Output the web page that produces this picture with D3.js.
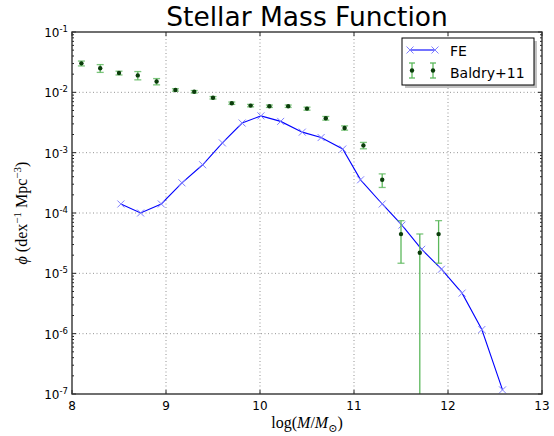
<!DOCTYPE html>
<html><head><meta charset="utf-8">
<script src="https://cdnjs.cloudflare.com/ajax/libs/d3/7.8.5/d3.min.js"></script>
<style>
html,body{margin:0;padding:0;background:#fff;}
svg{display:block;}
</style></head>
<body>
<svg id="chart" width="554" height="436"></svg>
<script>
// ---- data ----
const feMass = [8.52, 8.73, 8.95, 9.17, 9.39, 9.60, 9.81, 10.01, 10.22, 10.45, 10.65, 10.88, 11.07, 11.30, 11.51, 11.72, 11.93, 12.15, 12.36, 12.58];
const fePhi = [1.41e-4, 1.0e-4, 1.41e-4, 3.16e-4, 6.3e-4, 1.45e-3, 3.1e-3, 4.07e-3, 3.3e-3, 2.19e-3, 1.78e-3, 1.15e-3, 3.55e-4, 1.41e-4, 6.3e-5, 2.5e-5, 1.17e-5, 4.7e-6, 1.17e-6, 1.17e-7];
const baldryMass = [8.10, 8.30, 8.50, 8.70, 8.90, 9.10, 9.30, 9.50, 9.70, 9.90, 10.10, 10.30, 10.50, 10.70, 10.90, 11.10, 11.30, 11.50, 11.70, 11.90];
const baldryPhi = [0.0302, 0.0251, 0.0209, 0.0191, 0.0151, 0.01096, 0.01023, 0.00813, 0.00661, 0.00603, 0.00589, 0.00589, 0.00537, 0.00372, 0.00257, 0.00132, 0.000355, 4.47e-5, 2.19e-5, 4.47e-5];
const baldryErr = [0.0028, 0.0037, 0.0015, 0.0030, 0.0018, 0.0005, 0.00048, 0.00038, 0.0003, 0.00028, 0.00027, 0.00027, 0.00031, 0.00026, 0.00021, 0.00016, 0.00009, 3.0e-5, 2.3e-5, 3.0e-5];
const xTicks = [8, 9, 10, 11, 12, 13];
const yExponents = [-1, -2, -3, -4, -5, -6, -7];
const titleText = "Stellar Mass Function";
const legendLabels = ["FE", "Baldry+11"];

// ---- layout ----
const svg = d3.select("#chart");
const L = 72, R = 542, T = 32, B = 394;
const x = d3.scaleLinear().domain([8, 13]).range([L, R]);
const y = d3.scaleLog().domain([1e-7, 1e-1]).range([B, T]);

const feColor = "#0000ff", feMarker = "#8080ff";
const errColor = "#5cb85c", dotColor = "#0b3d0b";

// grid
const grid = svg.append("g");
xTicks.slice(1, -1).forEach(v => {
  grid.append("line").attr("x1", x(v)).attr("x2", x(v)).attr("y1", T).attr("y2", B)
    .attr("stroke", "#777").attr("stroke-width", 0.8).attr("stroke-dasharray", "1,2.5");
});
yExponents.slice(1, -1).forEach(e => {
  grid.append("line").attr("x1", L).attr("x2", R).attr("y1", y(Math.pow(10, e))).attr("y2", y(Math.pow(10, e)))
    .attr("stroke", "#777").attr("stroke-width", 0.8).attr("stroke-dasharray", "1,2.5");
});

// clip
svg.append("clipPath").attr("id", "clip").append("rect").attr("x", L).attr("y", T).attr("width", R - L).attr("height", B - T);
const plot = svg.append("g").attr("clip-path", "url(#clip)");

// FE line
const feData = feMass.map((m, i) => ({m, p: fePhi[i]}));
plot.append("path").datum(feData)
  .attr("d", d3.line().x(d => x(d.m)).y(d => y(d.p)))
  .attr("fill", "none").attr("stroke", feColor).attr("stroke-width", 1.1);
const xm = 3.5;
plot.selectAll(".fem").data(feData).enter().append("path")
  .attr("d", d => { const cx = x(d.m), cy = y(d.p);
    return `M${cx-xm},${cy-xm}L${cx+xm},${cy+xm}M${cx-xm},${cy+xm}L${cx+xm},${cy-xm}`; })
  .attr("stroke", feMarker).attr("stroke-width", 1).attr("fill", "none");

// Baldry error bars
const bData = baldryMass.map((m, i) => ({m, p: baldryPhi[i], e: baldryErr[i]}));
const cap = 3.5;
const eb = plot.selectAll(".eb").data(bData).enter().append("g");
eb.append("line").attr("x1", d => x(d.m)).attr("x2", d => x(d.m))
  .attr("y1", d => y(d.p + d.e))
  .attr("y2", d => (d.p - d.e) > 0 ? y(d.p - d.e) : B + 5)
  .attr("stroke", errColor).attr("stroke-width", 1.3);
eb.append("line").attr("x1", d => x(d.m) - cap).attr("x2", d => x(d.m) + cap)
  .attr("y1", d => y(d.p + d.e)).attr("y2", d => y(d.p + d.e))
  .attr("stroke", errColor).attr("stroke-width", 1.3).attr("opacity", 0.8);
eb.filter(d => d.p - d.e > 0).append("line").attr("x1", d => x(d.m) - cap).attr("x2", d => x(d.m) + cap)
  .attr("y1", d => y(d.p - d.e)).attr("y2", d => y(d.p - d.e))
  .attr("stroke", errColor).attr("stroke-width", 1.3).attr("opacity", 0.8);
eb.append("circle").attr("cx", d => x(d.m)).attr("cy", d => y(d.p)).attr("r", 2.2).attr("fill", dotColor);

// ticks
const tk = svg.append("g").attr("stroke", "#222").attr("stroke-width", 1);
xTicks.forEach(v => {
  tk.append("line").attr("x1", x(v)).attr("x2", x(v)).attr("y1", B).attr("y2", B - 4);
  tk.append("line").attr("x1", x(v)).attr("x2", x(v)).attr("y1", T).attr("y2", T + 4);
});
for (let e = -7; e <= -1; e++) {
  const yy = y(Math.pow(10, e));
  tk.append("line").attr("x1", L).attr("x2", L + 4).attr("y1", yy).attr("y2", yy);
  tk.append("line").attr("x1", R).attr("x2", R - 4).attr("y1", yy).attr("y2", yy);
  if (e < -1) {
    for (let k = 2; k <= 9; k++) {
      const ym = y(k * Math.pow(10, e));
      tk.append("line").attr("x1", L).attr("x2", L + 2).attr("y1", ym).attr("y2", ym);
      tk.append("line").attr("x1", R).attr("x2", R - 2).attr("y1", ym).attr("y2", ym);
    }
  }
}

// frame
svg.append("rect").attr("x", L).attr("y", T).attr("width", R - L).attr("height", B - T)
  .attr("fill", "none").attr("stroke", "#333").attr("stroke-width", 1.4);

// tick labels
const font = "DejaVu Sans, sans-serif";
svg.append("g").selectAll("text").data(xTicks).enter().append("text")
  .attr("x", d => x(d)).attr("y", B + 16).attr("text-anchor", "middle")
  .attr("font-family", font).attr("font-size", 12).attr("fill", "#000").text(d => d);
const yl = svg.append("g").selectAll("text").data(yExponents).enter().append("text")
  .attr("x", L - 4).attr("y", d => y(Math.pow(10, d)) + 5).attr("text-anchor", "end")
  .attr("font-family", font).attr("font-size", 12).attr("fill", "#000");
yl.append("tspan").text("10");
yl.append("tspan").attr("dy", -5).attr("font-size", 8.5).text(d => "-" + Math.abs(d));

// title
svg.append("text").attr("x", (L + R) / 2).attr("y", 26).attr("text-anchor", "middle")
  .attr("font-family", font).attr("font-size", 26.5).attr("fill", "#000").text(titleText);

// axis labels
const serif = "Liberation Serif, DejaVu Serif, serif";
const xl = svg.append("text").attr("x", (L + R) / 2).attr("y", 428).attr("text-anchor", "middle")
  .attr("font-family", serif).attr("font-size", 16).attr("fill", "#000");
xl.append("tspan").text("log(");
xl.append("tspan").attr("font-style", "italic").text("M");
xl.append("tspan").text("/");
xl.append("tspan").attr("font-style", "italic").text("M");
xl.append("tspan").attr("dy", 4).attr("font-size", 11).text("⊙");
xl.append("tspan").attr("dy", -4).text(")");

const ylab = svg.append("text").attr("transform", `translate(27,${(T + B) / 2}) rotate(-90)`)
  .attr("text-anchor", "middle").attr("font-family", serif).attr("font-size", 16).attr("fill", "#000");
ylab.append("tspan").attr("font-style", "italic").text("ϕ");
ylab.append("tspan").text(" (dex");
ylab.append("tspan").attr("dy", -6).attr("font-size", 11).text("−1");
ylab.append("tspan").attr("dy", 6).text(" Mpc");
ylab.append("tspan").attr("dy", -6).attr("font-size", 11).text("−3");
ylab.append("tspan").attr("dy", 6).text(")");

// legend
const lg = svg.append("g");
const lx = 402, ly = 38, lw = 132, lh = 47;
lg.append("rect").attr("x", lx + 3).attr("y", ly + 3).attr("width", lw).attr("height", lh).attr("fill", "#999").attr("opacity", 0.6);
lg.append("rect").attr("x", lx).attr("y", ly).attr("width", lw).attr("height", lh).attr("fill", "#fff").attr("stroke", "#000").attr("stroke-width", 1);
lg.append("line").attr("x1", 410).attr("x2", 435).attr("y1", 50).attr("y2", 50).attr("stroke", feColor).attr("stroke-width", 1.1);
[410, 435].forEach(cx => {
  lg.append("path").attr("d", `M${cx-xm},${50-xm}L${cx+xm},${50+xm}M${cx-xm},${50+xm}L${cx+xm},${50-xm}`)
    .attr("stroke", feMarker).attr("stroke-width", 1);
});
[412, 433].forEach(cx => {
  lg.append("line").attr("x1", cx).attr("x2", cx).attr("y1", 63).attr("y2", 78).attr("stroke", errColor).attr("stroke-width", 1.3);
  lg.append("line").attr("x1", cx - 3).attr("x2", cx + 3).attr("y1", 63).attr("y2", 63).attr("stroke", errColor).attr("stroke-width", 1.3);
  lg.append("line").attr("x1", cx - 3).attr("x2", cx + 3).attr("y1", 78).attr("y2", 78).attr("stroke", errColor).attr("stroke-width", 1.3);
  lg.append("circle").attr("cx", cx).attr("cy", 70.5).attr("r", 2.2).attr("fill", dotColor);
});
lg.selectAll(".lt").data(legendLabels).enter().append("text")
  .attr("x", 450).attr("y", (d, i) => 56 + i * 22)
  .attr("font-family", font).attr("font-size", 14).attr("fill", "#000").text(d => d);
</script>
</body></html>
